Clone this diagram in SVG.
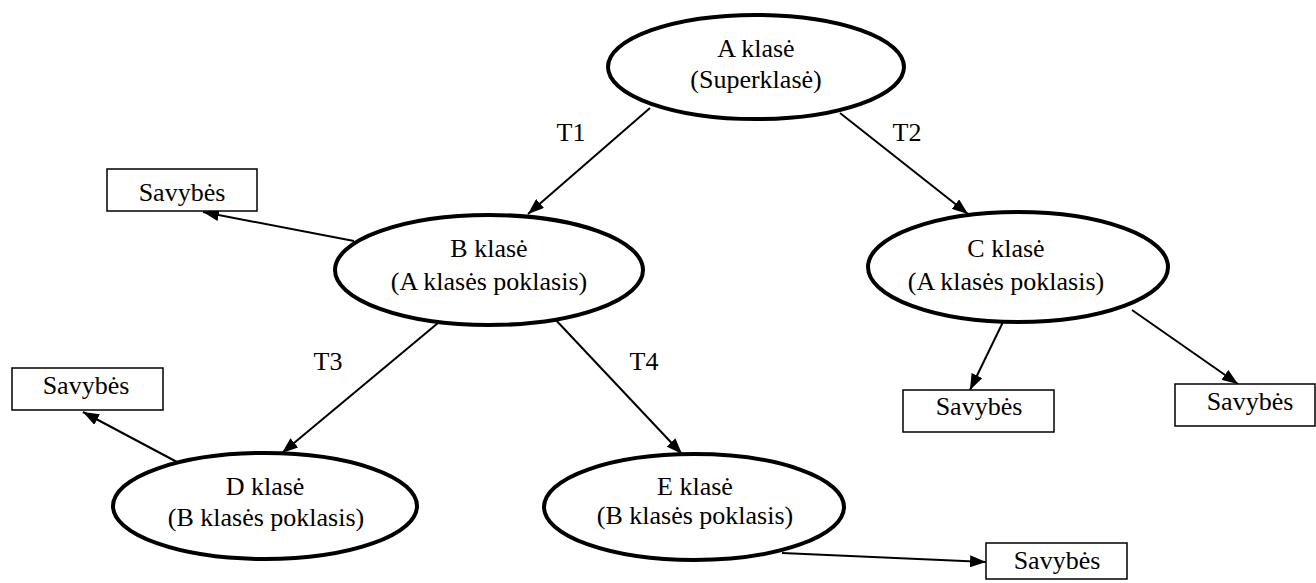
<svg xmlns="http://www.w3.org/2000/svg" width="1316" height="583" viewBox="0 0 1316 583">
  <style>
    .cls { fill: #ffffff; stroke: #000000; stroke-width: 4; }
    .box { fill: #ffffff; stroke: #000000; stroke-width: 1.5; }
    .edge { fill: none; stroke: #000000; stroke-width: 2; marker-end: url(#head); }
    text { font-family: "Liberation Serif", "Times New Roman", serif; font-size: 26px; fill: #000000; text-anchor: middle; }
  </style>
  <defs>
    <marker id="head" viewBox="0 0 16 12" refX="16" refY="6" markerWidth="16" markerHeight="12" markerUnits="userSpaceOnUse" orient="auto">
      <path d="M0,0 L16,6 L0,12 Z" fill="#000000"/>
    </marker>
  </defs>

  <!-- inheritance and property connectors -->
  <g id="connectors">
    <line class="edge" x1="650" y1="108" x2="528" y2="214"/>
    <line class="edge" x1="840" y1="113" x2="968" y2="214"/>
    <line class="edge" x1="354" y1="241" x2="203" y2="212"/>
    <line class="edge" x1="438" y1="323" x2="282" y2="453"/>
    <line class="edge" x1="553" y1="317" x2="682" y2="454"/>
    <line class="edge" x1="177" y1="462" x2="83" y2="412"/>
    <line class="edge" x1="1003" y1="322" x2="970" y2="390"/>
    <line class="edge" x1="1132" y1="310" x2="1238" y2="384"/>
    <line class="edge" x1="782" y1="553" x2="986" y2="562"/>
    <text x="571" y="141">T1</text>
    <text x="907" y="141">T2</text>
    <text x="328" y="370">T3</text>
    <text x="644" y="370">T4</text>
  </g>

  <g id="class-a">
    <ellipse class="cls" cx="756" cy="67" rx="148" ry="52"/>
    <text x="756" y="57">A klasė</text>
    <text x="756" y="88">(Superklasė)</text>
  </g>

  <g id="class-b">
    <ellipse class="cls" cx="489" cy="270" rx="154" ry="55"/>
    <text x="489" y="257">B klasė</text>
    <text x="489" y="290">(A klasės poklasis)</text>
  </g>

  <g id="class-c">
    <ellipse class="cls" cx="1018" cy="267" rx="150" ry="55"/>
    <text x="1006" y="257">C klasė</text>
    <text x="1006" y="290">(A klasės poklasis)</text>
  </g>

  <g id="class-d">
    <ellipse class="cls" cx="265" cy="506" rx="152" ry="53"/>
    <text x="265" y="495">D klasė</text>
    <text x="266" y="526">(B klasės poklasis)</text>
  </g>

  <g id="class-e">
    <ellipse class="cls" cx="694" cy="507" rx="150" ry="53"/>
    <text x="695" y="495">E klasė</text>
    <text x="695" y="524">(B klasės poklasis)</text>
  </g>

  <g id="props-b">
    <rect class="box" x="107" y="169" width="150" height="42"/>
    <text x="182" y="201">Savybės</text>
  </g>

  <g id="props-d">
    <rect class="box" x="12" y="368" width="151" height="42"/>
    <text x="86" y="394">Savybės</text>
  </g>

  <g id="props-c-left">
    <rect class="box" x="903" y="390" width="151" height="42"/>
    <text x="979" y="415">Savybės</text>
  </g>

  <g id="props-c-right">
    <rect class="box" x="1175" y="384" width="140" height="42"/>
    <text x="1250" y="410">Savybės</text>
  </g>

  <g id="props-e">
    <rect class="box" x="986" y="543" width="141" height="36"/>
    <text x="1057" y="569">Savybės</text>
  </g>
</svg>
